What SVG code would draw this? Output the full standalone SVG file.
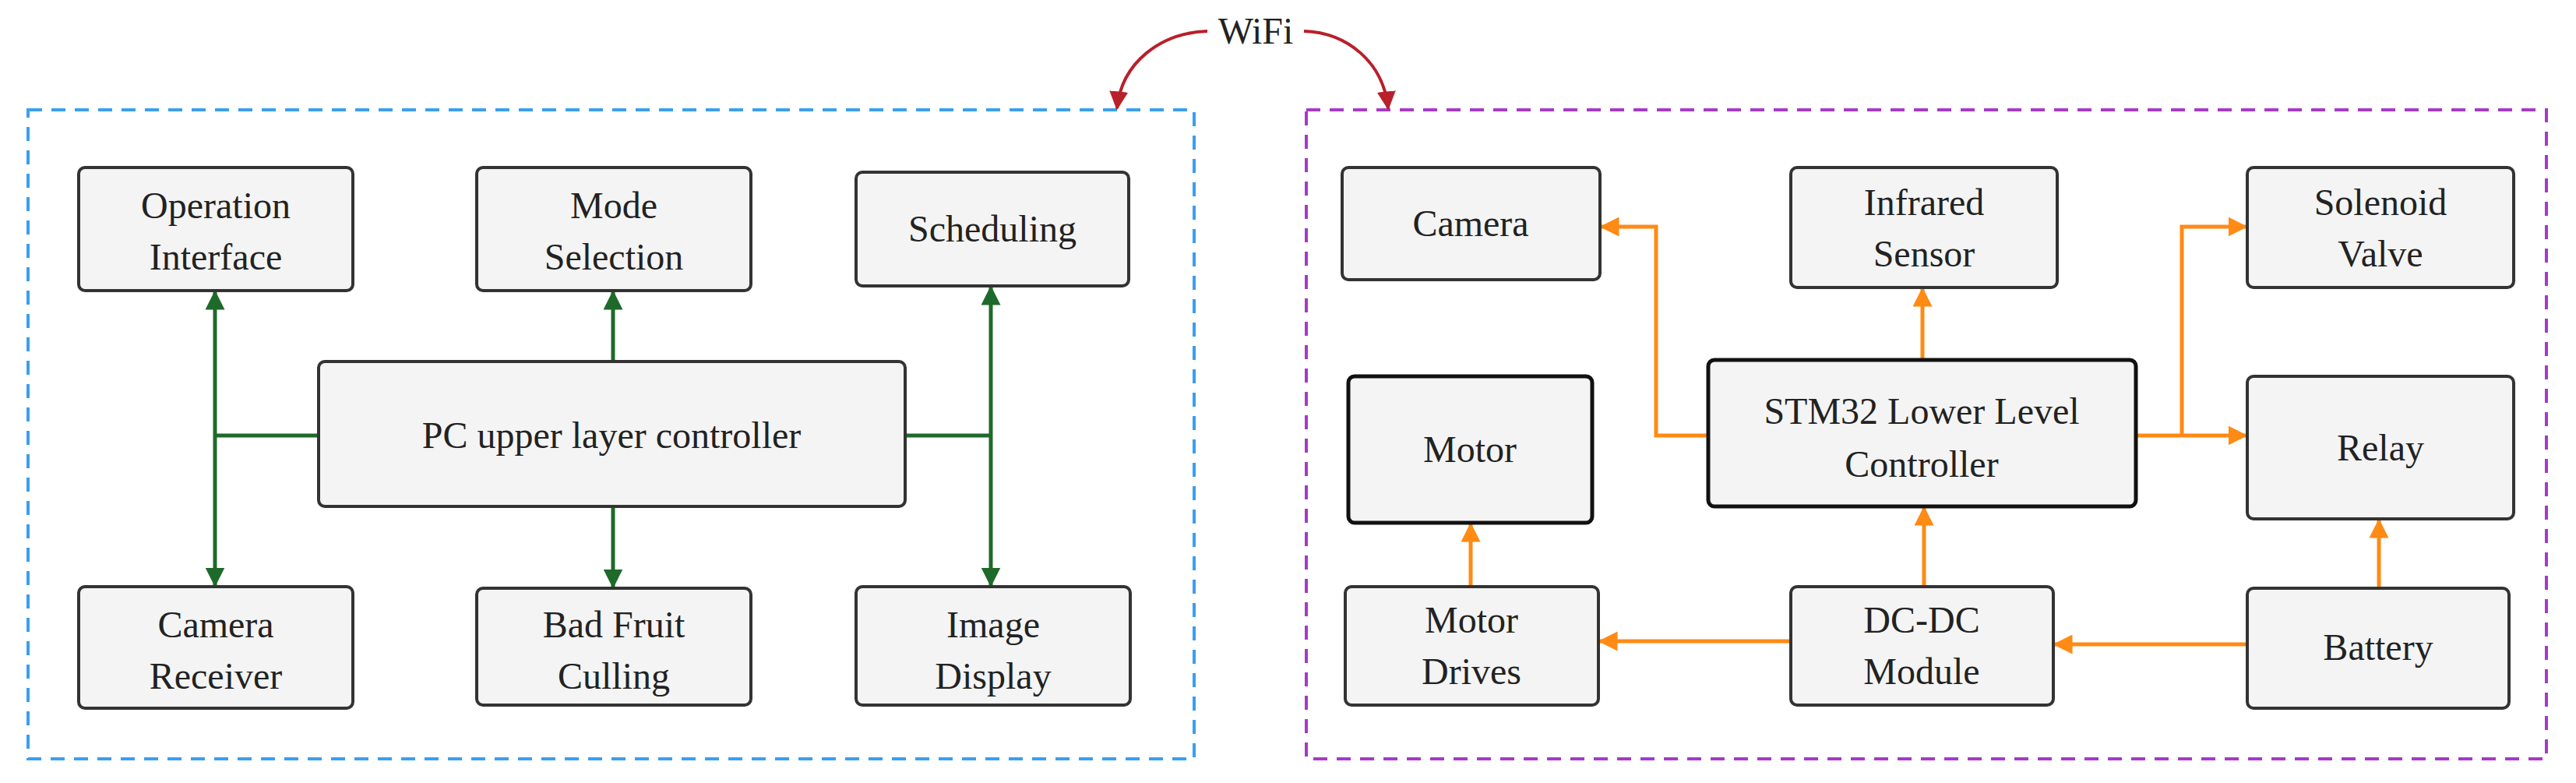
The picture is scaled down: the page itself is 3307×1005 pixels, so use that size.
<svg xmlns="http://www.w3.org/2000/svg" width="3307" height="1005" viewBox="0 0 3307 1005">
<style>
.n rect{fill:#f4f4f4;stroke:#333;stroke-width:4}
.n text{font-family:'Liberation Serif','Times New Roman',serif;font-size:48px;fill:#222;text-anchor:middle}
.g{stroke:#1e6a2a;stroke-width:5;fill:none}
.o{stroke:#ff8a14;stroke-width:5;fill:none}
.r{stroke:#b8202a;stroke-width:4;fill:none}
</style>
<defs>
<marker id="mg" viewBox="0 0 10 10" refX="9" refY="5" markerWidth="5" markerHeight="5" orient="auto-start-reverse" markerUnits="strokeWidth"><path d="M0,0L10,5L0,10z" fill="#1e6a2a"/></marker>
<marker id="mo" viewBox="0 0 10 10" refX="9" refY="5" markerWidth="5" markerHeight="5" orient="auto" markerUnits="strokeWidth"><path d="M0,0L10,5L0,10z" fill="#ff8a14"/></marker>
<marker id="mr" viewBox="0 0 10 10" refX="9" refY="5" markerWidth="6" markerHeight="6" orient="auto" markerUnits="strokeWidth"><path d="M0,0L10,5L0,10z" fill="#b8202a"/></marker>
</defs>
<rect x="36" y="141" width="1497" height="833" fill="none" stroke="#3a9ff0" stroke-width="4" stroke-dasharray="18,12"/>
<rect x="1677" y="141" width="1592" height="833" fill="none" stroke="#a63ac8" stroke-width="4" stroke-dasharray="18,12"/>
<text x="1612" y="56" font-family="Liberation Serif,serif" font-size="48" text-anchor="middle" fill="#222">WiFi</text>
<g id="connectors">
<path class="r" d="M1550,40 C1490,42 1440,80 1434,139" marker-end="url(#mr)"/>
<path class="r" d="M1674,40 C1730,42 1776,80 1782,139" marker-end="url(#mr)"/>
<path class="g" d="M276,375V751" marker-start="url(#mg)" marker-end="url(#mg)"/>
<path class="g" d="M276,559H409"/>
<path class="g" d="M1272,369V751" marker-start="url(#mg)" marker-end="url(#mg)"/>
<path class="g" d="M1162,559H1272"/>
<path class="g" d="M787,464V375" marker-end="url(#mg)"/>
<path class="g" d="M787,650V753" marker-end="url(#mg)"/>
<path class="o" d="M2193,559H2126V291H2056" marker-end="url(#mo)"/>
<path class="o" d="M2468,462V371" marker-end="url(#mo)"/>
<path class="o" d="M2742,559H2883" marker-end="url(#mo)"/>
<path class="o" d="M2801,559V291H2883" marker-end="url(#mo)"/>
<path class="o" d="M2470,753V652" marker-end="url(#mo)"/>
<path class="o" d="M1888,753V673" marker-end="url(#mo)"/>
<path class="o" d="M3054,755V668" marker-end="url(#mo)"/>
<path class="o" d="M2885,827H2638" marker-end="url(#mo)"/>
<path class="o" d="M2299,823H2054" marker-end="url(#mo)"/>
</g>
<g id="op" class="n"><rect x="101" y="215" width="352" height="158" rx="8"/><text x="277" y="280">Operation</text><text x="277" y="346">Interface</text></g>
<g id="mode" class="n"><rect x="612" y="215" width="352" height="158" rx="8"/><text x="788" y="280">Mode</text><text x="788" y="346">Selection</text></g>
<g id="sched" class="n"><rect x="1099" y="221" width="350" height="146" rx="8"/><text x="1274" y="310">Scheduling</text></g>
<g id="pc" class="n"><rect x="409" y="464" width="753" height="186" rx="8"/><text x="785" y="575">PC upper layer controller</text></g>
<g id="camrx" class="n"><rect x="101" y="753" width="352" height="156" rx="8"/><text x="277" y="818">Camera</text><text x="277" y="884">Receiver</text></g>
<g id="bad" class="n"><rect x="612" y="755" width="352" height="150" rx="8"/><text x="788" y="818">Bad Fruit</text><text x="788" y="884">Culling</text></g>
<g id="img" class="n"><rect x="1099" y="753" width="352" height="152" rx="8"/><text x="1275" y="818">Image</text><text x="1275" y="884">Display</text></g>
<g id="cam" class="n"><rect x="1723" y="215" width="331" height="144" rx="8"/><text x="1888" y="303">Camera</text></g>
<g id="ir" class="n"><rect x="2299" y="215" width="342" height="154" rx="8"/><text x="2470" y="276">Infrared</text><text x="2470" y="342">Sensor</text></g>
<g id="sol" class="n"><rect x="2885" y="215" width="342" height="154" rx="8"/><text x="3056" y="276">Solenoid</text><text x="3056" y="342">Valve</text></g>
<g id="motor" class="n"><rect x="1731" y="483" width="313" height="188" rx="8" style="stroke:#111;stroke-width:5"/><text x="1887" y="593">Motor</text></g>
<g id="stm" class="n"><rect x="2193" y="462" width="549" height="188" rx="8" style="stroke:#111;stroke-width:5"/><text x="2467" y="544">STM32 Lower Level</text><text x="2467" y="612">Controller</text></g>
<g id="relay" class="n"><rect x="2885" y="483" width="342" height="183" rx="8"/><text x="3056" y="591">Relay</text></g>
<g id="drv" class="n"><rect x="1727" y="753" width="325" height="152" rx="8"/><text x="1889" y="812">Motor</text><text x="1889" y="878">Drives</text></g>
<g id="dcdc" class="n"><rect x="2299" y="753" width="337" height="152" rx="8"/><text x="2467" y="812">DC-DC</text><text x="2467" y="878">Module</text></g>
<g id="bat" class="n"><rect x="2885" y="755" width="336" height="154" rx="8"/><text x="3053" y="847">Battery</text></g>
</svg>
